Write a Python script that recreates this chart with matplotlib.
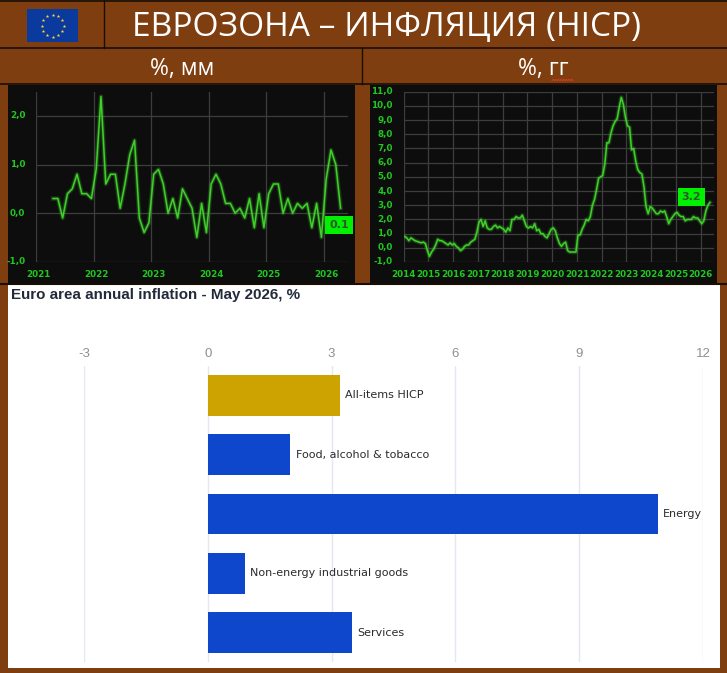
import numpy as np
import matplotlib
matplotlib.use('Agg')
import matplotlib.pyplot as plt
from matplotlib.patches import Rectangle

W, H = 727, 673
BROWN = '#7f3e10'
GREEN = '#3fd02a'
TICK_GREEN = '#1fc71f'

# inflacion mensual, abril 2021 - abril 2026
mm_start = 2021 + 3.5 / 12
mm_values = [0.3, 0.3, -0.1, 0.4, 0.5, 0.8, 0.4, 0.4, 0.3,
             0.9, 2.4, 0.6, 0.8, 0.8, 0.1, 0.6, 1.2, 1.5, -0.1, -0.4, -0.2,
             0.8, 0.9, 0.6, 0.0, 0.3, -0.1, 0.5, 0.3, 0.1, -0.5, 0.2, -0.4,
             0.6, 0.8, 0.6, 0.2, 0.2, 0.0, 0.1, -0.1, 0.3, -0.3, 0.4, -0.3,
             0.4, 0.6, 0.6, 0.0, 0.3, 0.0, 0.2, 0.1, 0.2, -0.3, 0.2, -0.5,
             0.7, 1.3, 1.0, 0.1]
mm_years = [2021, 2022, 2023, 2024, 2025, 2026]
mm_yticks = [-1, 0, 1, 2]

# inflacion anual, enero 2014 - mayo 2026
yy_start = 2014 + 0.5 / 12
yy_values = [0.8, 0.7, 0.5, 0.7, 0.6, 0.5, 0.45, 0.4, 0.35, 0.4, 0.3, -0.2,
             -0.6, -0.3, -0.1, 0.2, 0.6, 0.5, 0.5, 0.4, 0.3, 0.2, 0.35, 0.2,
             0.3, 0.1, 0.0, -0.2, -0.1, 0.1, 0.2, 0.2, 0.4, 0.5, 0.6, 1.1,
             1.8, 2.0, 1.5, 1.9, 1.4, 1.3, 1.3, 1.5, 1.6, 1.4, 1.5, 1.4,
             1.3, 1.1, 1.4, 1.2, 2.0, 2.0, 2.2, 2.1, 2.1, 2.3, 1.9, 1.5,
             1.4, 1.5, 1.4, 1.7, 1.2, 1.3, 1.0, 1.0, 0.8, 0.7, 1.0, 1.3,
             1.4, 1.2, 0.7, 0.3, 0.1, 0.3, 0.4, -0.2, -0.3, -0.3, -0.3, -0.3,
             0.9, 0.9, 1.3, 1.6, 2.0, 1.9, 2.2, 3.0, 3.4, 4.1, 4.9, 5.0,
             5.1, 5.9, 7.4, 7.4, 8.1, 8.6, 8.9, 9.1, 9.9, 10.6, 10.1, 9.2,
             8.6, 8.5, 6.9, 7.0, 6.1, 5.5, 5.3, 5.2, 4.3, 2.9, 2.4, 2.9,
             2.8, 2.6, 2.4, 2.4, 2.6, 2.5, 2.6, 2.2, 1.7, 2.0, 2.2, 2.4,
             2.5, 2.3, 2.2, 2.2, 1.9, 2.0, 2.0, 2.0, 2.2, 2.1, 2.1, 1.9,
             1.7, 1.9, 2.6, 3.0, 3.2]
yy_years = list(range(2014, 2027))
yy_yticks = list(range(-1, 12))

# barras de mayo 2026
categories = ['All-items HICP', 'Food, alcohol & tobacco', 'Energy',
              'Non-energy industrial goods', 'Services']
bar_values = [3.2, 2.0, 10.9, 0.9, 3.5]
bar_colors = ['#cca300', '#0e47cb', '#0e47cb', '#0e47cb', '#0e47cb']
bar_ticks = [-3, 0, 3, 6, 9, 12]


def axes_px(x0, y0, x1, y1, **kw):
    # rectangulo en pixeles de la imagen, y hacia abajo
    return fig.add_axes([x0 / W, 1 - y1 / H, (x1 - x0) / W, (y1 - y0) / H], **kw)


def dark_chart(ax, x, y, years, yticks, xlim, ylim, label_dx):
    ax.set_facecolor('none')
    ax.set_xlim(*xlim)
    ax.set_ylim(*ylim)
    for s in ax.spines.values():
        s.set_visible(False)
    ax.set_xticks(years)
    ax.set_yticks(yticks)
    ax.grid(color='#3d3d3d', linewidth=0.9)
    ax.set_axisbelow(True)
    ax.tick_params(length=0, labelbottom=False, labelleft=False)
    # brillo alrededor de la linea
    ax.plot(x, y, color=GREEN, linewidth=3.6, alpha=0.12, solid_joinstyle='round')
    ax.plot(x, y, color=GREEN, linewidth=2.4, alpha=0.22, solid_joinstyle='round')
    ax.plot(x, y, color=GREEN, linewidth=1.1, solid_joinstyle='round')
    for t in yticks:
        ax.annotate(f'{t},0', (0, t), xycoords=ax.get_yaxis_transform(), xytext=(-7.8, 0),
                    textcoords='offset points', ha='right', va='center',
                    color=TICK_GREEN, fontsize=6.3, fontweight='bold')
    for yr in years:
        ax.annotate(str(yr), (yr, 0), xycoords=ax.get_xaxis_transform(), xytext=(label_dx, -9),
                    textcoords='offset points', ha='center', va='center',
                    color=TICK_GREEN, fontsize=6.3, fontweight='bold')


def badge(ax, text, x, y, dx, dy):
    ax.annotate(text, (x, y), xytext=(dx, dy), textcoords='offset points', ha='center',
                va='center', color='#2d5a2d', fontsize=8, fontweight='bold',
                annotation_clip=False,
                bbox=dict(boxstyle='square,pad=0.36', fc='#00f000', ec='none'))


fig = plt.figure(figsize=(W / 100, H / 100), dpi=100, facecolor=BROWN)

# capa de fondo: cabecera y paneles
bg = fig.add_axes([0, 0, 1, 1])
bg.set_xlim(0, W)
bg.set_ylim(H, 0)
bg.axis('off')
bg.add_patch(Rectangle((8, 85), 347, 198, color='#0d0d0d', lw=0))
bg.add_patch(Rectangle((370, 85), 347, 198, color='#0d0d0d', lw=0))
bg.add_patch(Rectangle((8, 285), 712, 383, color='white', lw=0))
bg.plot([0, W], [0.5, 0.5], color='#1a0d04', lw=1.2)
bg.plot([0, W], [48, 48], color='#1a0d04', lw=1.2)
bg.plot([0, W], [84, 84], color='#1a0d04', lw=1.2)
bg.plot([0, W], [284, 284], color='#1a0d04', lw=1.5)
bg.plot([104, 104], [0, 48], color='#1a0d04', lw=1)
bg.plot([362, 362], [48, 84], color='#1a0d04', lw=1)

# bandera
bg.add_patch(Rectangle((27, 9), 51, 33, color='#0b3a9e', lw=0))
ang = np.arange(12) * np.pi / 6
bg.scatter(52.5 + 11 * np.cos(ang), 25.5 + 11 * np.sin(ang), marker='*', s=7,
           color='#ffd83a', linewidths=0)

bg.text(386, 28, 'ЕВРОЗОНА – ИНФЛЯЦИЯ (HICP)', color='white', fontsize=24.1,
        family='Open Sans', ha='center', va='center')
bg.text(182, 69, '%, мм', color='white', fontsize=16.5, family='Open Sans',
        ha='center', va='center')
bg.text(543, 69, '%, гг', color='white', fontsize=16.5, family='Open Sans',
        ha='center', va='center')
# subrayado rojo del corrector
wx = np.linspace(552, 573, 17)
bg.plot(wx, 80 + 0.8 * (-1.0) ** np.arange(17), color='#d23a2a', lw=0.7)

# panel %, mm
ax1 = axes_px(36.3, 91.7, 348, 261.7)
x1 = mm_start + np.arange(len(mm_values)) / 12
dark_chart(ax1, x1, mm_values, mm_years, mm_yticks,
           (2021, 2021 + (348 - 36.3) / 57.5), (-1, 2.5), 1.8)
badge(ax1, '0.1', x1[-1], mm_values[-1], -1.1, -12.2)

# panel %, gg
ax2 = axes_px(403.7, 91.7, 713.7, 262)
x2 = yy_start + np.arange(len(yy_values)) / 12
dark_chart(ax2, x2, yy_values, yy_years, yy_yticks,
           (2014, 2014 + (713.7 - 403.7) / 24.75), (-1, 11), 0)
badge(ax2, '3.2', x2[-1], yy_values[-1], -13.3, 3.6)

# panel de barras
bg.text(11, 295.5, 'Euro area annual inflation - May 2026, %', color='#232b3a',
        fontsize=10.9, fontweight='bold', family='Liberation Sans', ha='left', va='center')
ax3 = axes_px(84, 366, 703, 662)
ax3.set_facecolor('none')
ax3.set_xlim(-3, 12)
ax3.set_ylim(4.49, -0.49)
for s in ax3.spines.values():
    s.set_visible(False)
ax3.set_yticks([])
ax3.set_xticks(bar_ticks)
ax3.set_xticklabels([str(t) for t in bar_ticks], family='Liberation Sans')
ax3.grid(axis='x', color='#e4e7ef', linewidth=1)
ax3.set_axisbelow(True)
ax3.xaxis.tick_top()
ax3.tick_params(length=0, pad=4, labelsize=9.5, labelcolor='#8f8f8f')
ypos = np.arange(len(categories))
ax3.barh(ypos, bar_values, height=0.686, color=bar_colors)
for y, v, c in zip(ypos, bar_values, categories):
    ax3.annotate(c, (v, y), xytext=(3.8, 0), textcoords='offset points', ha='left',
                 va='center', color='#2b2b2b', fontsize=8, family='DejaVu Sans')

fig.savefig('out.png', dpi=100, facecolor=BROWN)
